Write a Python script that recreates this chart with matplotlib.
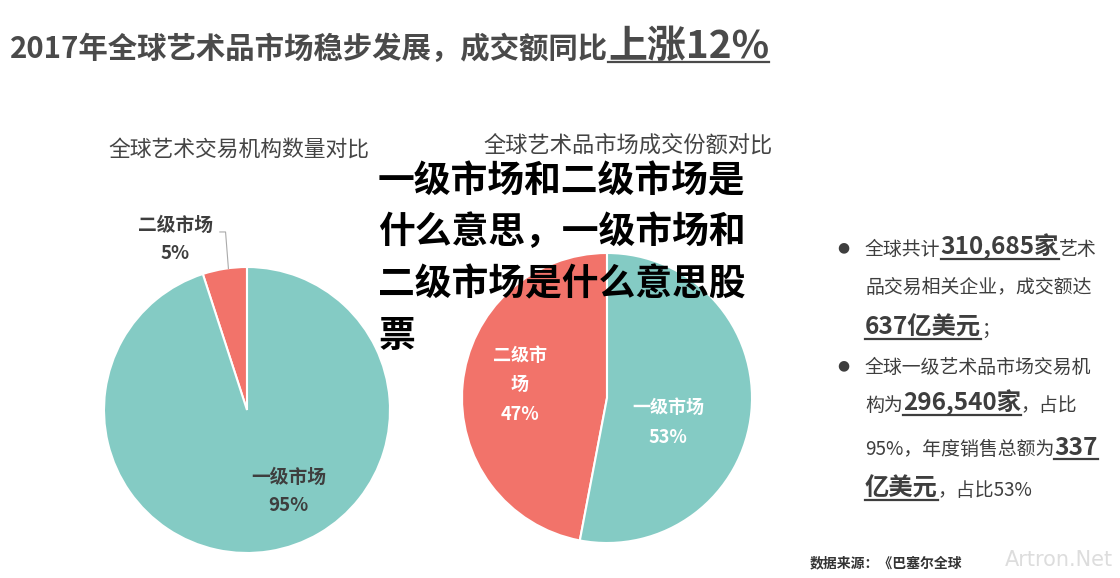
import matplotlib.pyplot as plt
from matplotlib.lines import Line2D

plt.rcParams['font.family'] = 'Noto Sans CJK SC'

# data
count_labels = ['二级市场', '一级市场']
count_share = [5, 95]
value_labels = ['二级市场', '一级市场']
value_share = [47, 53]
pie_colors = ['#F2736A', '#84CBC4']

title_main = '2017年全球艺术品市场稳步发展，成交额同比'
title_emph = '上涨12%'
overlay_lines = ['一级市场和二级市场是', '什么意思，一级市场和', '二级市场是什么意思股', '票']

W, H = 1120, 578
fig = plt.figure(figsize=(W / 100, H / 100), dpi=100)
fig.patch.set_facecolor('white')
renderer = fig.canvas.get_renderer()

DARK = '#3e3e3e'


def write_run(x, y, segments, color=DARK):
    """Draw text segments one after another on a baseline at pixel (x, y)."""
    for text, size, bold, underline in segments:
        t = fig.text(x / W, 1 - y / H, text, fontsize=size, color=color,
                     fontweight='bold' if bold else 'normal', ha='left', va='baseline')
        bb = t.get_window_extent(renderer)
        if underline:
            fig.add_artist(Line2D([bb.x0 / W, bb.x1 / W], [1 - (y + 4) / H] * 2,
                                  color=color, lw=1.6))
        x = bb.x1
    return x


# title
write_run(10, 58, [(title_main, 21.2, True, False), (title_emph, 28, True, True)], color='#4a4a4a')

# left pie: number of institutions
ax1 = fig.add_axes([104 / W, 1 - 553 / H, 286 / W, 286 / H])
ax1.pie(count_share, colors=pie_colors, startangle=90, counterclock=True,
        wedgeprops=dict(edgecolor='white', linewidth=1.5))
ax1.set_xlim(-1, 1)
ax1.set_ylim(-1, 1)
ax1.set_aspect('equal')
ax1.text(0.29, -0.57, f'{count_labels[1]}\n{count_share[1]}%', ha='center', va='center',
         fontsize=13.5, fontweight='bold', color=DARK, linespacing=1.6)
ax1.text(-0.5, 1.19, f'{count_labels[0]}\n{count_share[0]}%', ha='center', va='center',
         fontsize=13.5, fontweight='bold', color=DARK, linespacing=1.6)
ax1.plot([-0.19, -0.15, -0.13], [1.245, 1.245, 0.99], color='#aaaaaa', lw=0.8, clip_on=False)
fig.text(108 / W, 1 - 150 / H, '全球艺术交易机构数量对比', fontsize=15.7, color='#444444',
         ha='left', va='center')

# right pie: transaction value share
ax2 = fig.add_axes([462 / W, 1 - 543 / H, 290 / W, 290 / H])
ax2.pie(value_share, colors=pie_colors, startangle=90, counterclock=True,
        wedgeprops=dict(edgecolor='white', linewidth=1.5))
ax2.set_xlim(-1, 1)
ax2.set_ylim(-1, 1)
ax2.set_aspect('equal')
ax2.text(-0.6, 0.09, f'二级市\n场\n{value_share[0]}%', ha='center', va='center',
         fontsize=13, fontweight='bold', color='white', linespacing=1.7)
ax2.text(0.42, -0.17, f'{value_labels[1]}\n{value_share[1]}%', ha='center', va='center',
         fontsize=13, fontweight='bold', color='white', linespacing=1.7)
fig.text(483 / W, 1 - 145 / H, '全球艺术品市场成交份额对比', fontsize=16, color='#444444',
         ha='left', va='center')

# bullet notes
for yb in (247, 365):
    fig.text(843 / W, 1 - yb / H, '●', fontsize=10, color=DARK, ha='center', va='center',
             family='DejaVu Sans')
bullet_rows = [
    (255, [('全球共计', 13.6, False, False), ('310,685家', 17.5, True, True), ('艺术', 13.6, False, False)]),
    (293, [('品交易相关企业，成交额达', 13.6, False, False)]),
    (335, [('637亿美元', 17.5, True, True), ('；', 13.6, False, False)]),
    (373, [('全球一级艺术品市场交易机', 13.6, False, False)]),
    (411, [('构为', 13.6, False, False), ('296,540家', 17.5, True, True), ('，占比', 13.6, False, False)]),
    (455, [('95%，年度销售总额为', 13.6, False, False), ('337', 17.5, True, True)]),
    (496, [('亿美元', 17.5, True, True), ('，占比53%', 13.6, False, False)]),
]
for yb, segs in bullet_rows:
    write_run(865, yb, segs)

# footer
fig.text(810 / W, 1 - 563 / H, '数据来源：《巴塞尔全球', fontsize=10, fontweight='bold',
         color='#333333', ha='left', va='center')
fig.text(1005 / W, 1 - 560 / H, 'Artron.Net', fontsize=15, color='#dddddd',
         ha='left', va='center', family='DejaVu Sans')

# overlay headline
for i, line in enumerate(overlay_lines):
    fig.text(378 / W, 1 - (192 + 51.5 * i) / H, line, fontsize=26.5, fontweight='heavy',
             color='black', ha='left', va='baseline')

fig.savefig('out.png', dpi=100)
